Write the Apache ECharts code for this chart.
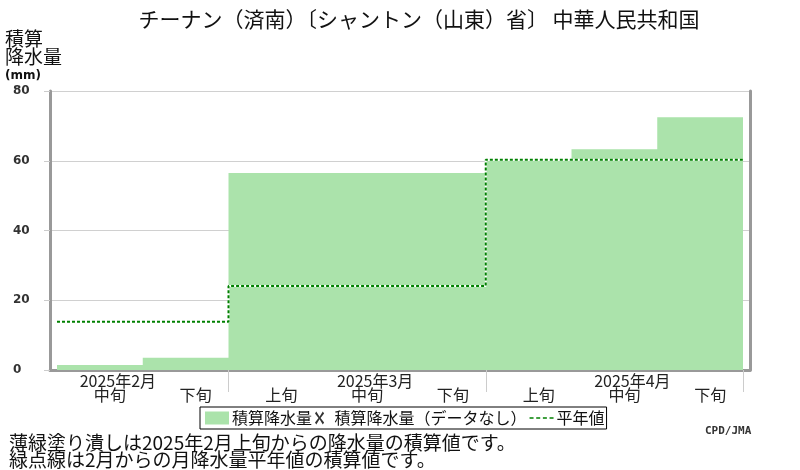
<!DOCTYPE html>
<html>
<head>
<meta charset="utf-8">
<script src="https://cdn.jsdelivr.net/npm/echarts@6/dist/echarts.min.js"></script>
<style>
  html, body { margin: 0; padding: 0; background: #fff; }
  #chart { width: 800px; height: 470px; }
</style>
</head>
<body>
<div id="chart"></div>
<script>
// Data
var junLabels = ['中旬', '下旬', '上旬', '中旬', '下旬', '上旬', '中旬', '下旬'];
var monthOfJun = ['2025年2月', '2025年2月', '2025年3月', '2025年3月', '2025年3月', '2025年4月', '2025年4月', '2025年4月'];
var accumPrecip = [1.4, 3.5, 56.5, 56.5, 56.5, 60.0, 63.3, 72.5];   // 積算降水量 (mm)
var normalAccum = [13.8, 13.8, 24.1, 24.1, 24.1, 60.3, 60.3, 60.3]; // 平年値の積算 (mm)
var yTicks = [0, 20, 40, 60, 80];

var jpFont = '"Noto Sans CJK JP", "Noto Sans", sans-serif';

// step points: one point per period start, plus the end of the last period
function stepPoints(values) {
    var pts = values.map(function (v, i) { return [i, v]; });
    pts.push([values.length, values[values.length - 1]]);
    return pts;
}

var myChart = echarts.init(document.getElementById('chart'));

var option = {
    animation: false,
    backgroundColor: '#fff',
    title: [
        {
            text: 'チーナン（済南）〔シャントン（山東）省〕 中華人民共和国',
            left: 414, top: 4, textAlign: 'center',
            textStyle: { fontFamily: jpFont, fontSize: 21, fontWeight: 'normal', color: '#111' }
        },
        {
            text: '積算\n降水量',
            left: 0, top: 25,
            textStyle: { fontFamily: jpFont, fontSize: 19, fontWeight: 'normal', color: '#111', lineHeight: 18 }
        },
        {
            text: '(mm)',
            left: 0, top: 65,
            textStyle: { fontFamily: 'DejaVu Sans', fontSize: 12, fontWeight: 'bold', color: '#111' }
        },
        {
            text: '薄緑塗り潰しは2025年2月上旬からの降水量の積算値です。',
            left: 4, top: 428,
            textStyle: { fontFamily: jpFont, fontSize: 19, fontWeight: 'normal', color: '#111' }
        },
        {
            text: '緑点線は2月からの月降水量平年値の積算値です。',
            left: 4, top: 445,
            textStyle: { fontFamily: jpFont, fontSize: 19, fontWeight: 'normal', color: '#111' }
        },
        {
            text: 'CPD/JMA',
            left: 700, top: 421,
            textStyle: { fontFamily: 'DejaVu Sans Mono', fontSize: 11, fontWeight: 'bold', color: '#333' }
        }
    ],
    legend: {
        left: 200, top: 407,
        padding: [3, 2, 3, 5],
        itemGap: 3,
        itemWidth: 24, itemHeight: 13,
        borderColor: '#000', borderWidth: 1,
        textStyle: { fontFamily: jpFont, fontSize: 16, color: '#111', padding: [0, 0, 0, -2] },
        data: [
            { name: '積算降水量', icon: 'rect' },
            { name: '積算降水量（データなし）', icon: 'path://M0,1.5L1,0L3.5,4L6,0L7,1.5L4.3,5L7,8.5L6,10L3.5,6L1,10L0,8.5L2.7,5Z' },
            { name: '平年値', icon: 'path://M0,0h3v1h-3zM5,0h3v1h-3zM10,0h3v1h-3zM15,0h3v1h-3z' }
        ]
    },
    grid: [
        // frame grid
        { left: 50, right: 50, top: 91, bottom: 100 },
        // data grid (periods are drawn slightly inside the frame)
        { left: 57, right: 57, top: 91, bottom: 100 }
    ],
    xAxis: [
        {
            gridIndex: 0, type: 'value', min: 0, max: 1, position: 'bottom',
            axisLine: { show: true, lineStyle: { color: '#999', width: 3 } },
            axisTick: { show: false }, axisLabel: { show: false }, splitLine: { show: false }
        },
        {
            gridIndex: 1, type: 'category', position: 'bottom', data: junLabels,
            axisLine: { show: false },
            axisTick: {
                show: true, length: 22,
                interval: function (index) { return index === 2 || index === 5; },
                lineStyle: { color: '#ccc', width: 1 }
            },
            axisLabel: {
                interval: 0, margin: 17, padding: [0, 0, 0, 20],
                fontFamily: jpFont, fontSize: 16, color: '#222'
            },
            splitLine: { show: false }
        },
        {
            gridIndex: 1, type: 'category', position: 'bottom', data: junLabels,
            axisLine: { show: false }, axisTick: { show: false },
            axisLabel: {
                interval: 0, margin: 3, padding: [0, 0, 0, 36],
                fontFamily: jpFont, fontSize: 16, color: '#222',
                formatter: function (value, index) {
                    return junLabels[index] === '中旬' ? monthOfJun[index] : '';
                }
            },
            splitLine: { show: false }
        },
        {
            gridIndex: 1, type: 'value', position: 'bottom', show: false,
            min: 0, max: junLabels.length
        }
    ],
    yAxis: [
        {
            gridIndex: 0, type: 'value', position: 'left',
            min: yTicks[0], max: yTicks[yTicks.length - 1], interval: 20,
            axisLine: { show: true, lineStyle: { color: '#999', width: 3 } },
            axisTick: { show: true, length: 6, lineStyle: { color: '#ccc' } },
            axisLabel: {
                margin: 37, align: 'left',
                fontFamily: 'DejaVu Sans', fontSize: 12, fontWeight: 'bold', color: '#333'
            },
            splitLine: { show: true, lineStyle: { color: '#d0d0d0', width: 1 } }
        },
        {
            gridIndex: 0, type: 'value', position: 'right',
            min: yTicks[0], max: yTicks[yTicks.length - 1],
            axisLine: { show: true, lineStyle: { color: '#999', width: 3 } },
            axisTick: { show: false }, axisLabel: { show: false }, splitLine: { show: false }
        },
        {
            gridIndex: 1, type: 'value', show: false,
            min: yTicks[0], max: yTicks[yTicks.length - 1]
        }
    ],
    series: [
        {
            name: '積算降水量',
            type: 'line',
            xAxisIndex: 3, yAxisIndex: 2,
            data: stepPoints(accumPrecip),
            step: 'end',
            symbol: 'none',
            itemStyle: { color: '#abe3ab' },
            lineStyle: { width: 0 },
            areaStyle: { color: '#abe3ab', opacity: 1 },
            silent: true
        },
        {
            name: '積算降水量（データなし）',
            type: 'scatter',
            xAxisIndex: 1, yAxisIndex: 2,
            data: [],
            itemStyle: { color: '#000' }
        },
        {
            name: '平年値下地',
            type: 'line',
            xAxisIndex: 3, yAxisIndex: 2,
            data: stepPoints(normalAccum),
            step: 'end',
            symbol: 'none',
            lineStyle: { color: '#fff', width: 2 },
            silent: true
        },
        {
            name: '平年値',
            type: 'line',
            xAxisIndex: 3, yAxisIndex: 2,
            data: stepPoints(normalAccum),
            step: 'end',
            symbol: 'none',
            itemStyle: { color: '#008000' },
            lineStyle: { color: '#008000', width: 2, type: [3, 2] },
            silent: true
        }
    ]
};

myChart.setOption(option);
</script>
</body>
</html>
